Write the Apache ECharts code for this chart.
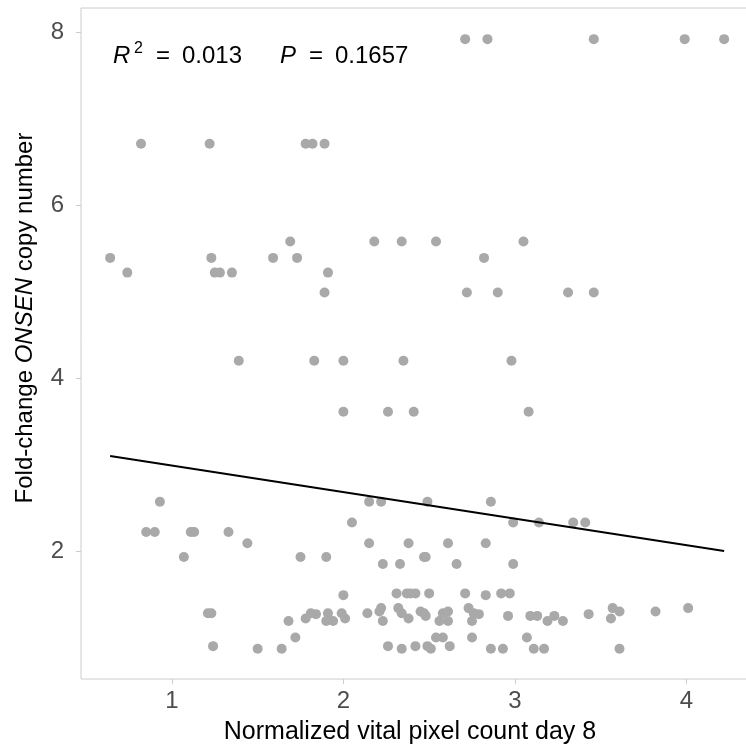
<!DOCTYPE html>
<html lang="en">
<head>
    <meta charset="UTF-8">
    <title>scatter</title>
    <script src="https://cdn.jsdelivr.net/npm/echarts@6/dist/echarts.min.js"></script>
    <style>
        * {
            margin: 0;
            padding: 0;
        }
        body {
            background-color: #fff;
            overflow: hidden;
        }
        #main {
            width: 746px;
            height: 754px;
        }
    </style>
</head>
<body>
<div id="main"></div>
<script type="text/javascript">
    // points, one row of the plot per line (x = pixel count, y = fold-change)
    var pixelCount = [
        2.71, 2.84, 3.46, 3.99, 4.22,
        0.82, 1.22, 1.78, 1.82, 1.89,
        1.69, 2.18, 2.34, 2.54, 3.05,
        0.64, 1.23, 1.59, 1.73, 2.82,
        0.74, 1.25, 1.28, 1.35, 1.91,
        1.89, 2.72, 2.90, 3.31, 3.46,
        1.39, 1.83, 2.00, 2.35, 2.98,
        2.00, 2.26, 2.41, 3.08,
        0.93, 2.15, 2.22, 2.49, 2.86,
        2.05, 2.99, 3.14, 3.34, 3.41,
        0.85, 0.90, 1.11, 1.13, 1.33,
        1.44, 2.15, 2.38, 2.61, 2.83,
        1.07, 1.75, 1.90, 2.47, 2.48,
        2.23, 2.33, 2.66, 2.99,
        2.31, 2.37, 2.39, 2.42, 2.50, 2.71, 2.92, 2.97,
        2.00, 2.83,
        2.22, 2.32, 2.73, 3.57, 4.01,
        2.21, 2.45, 2.61, 3.61, 3.82,
        1.21, 1.23, 1.81, 1.91, 1.99, 2.14, 2.34, 2.47, 2.58, 2.76,
        1.84, 2.79, 3.43,
        2.48, 2.96, 3.09, 3.13, 3.23,
        1.78, 2.01, 2.38, 3.56,
        1.68, 1.90, 1.94, 2.23, 2.56, 2.61, 2.75, 3.19, 3.28,
        1.72, 2.54, 2.58, 2.75, 3.07,
        1.24, 2.26, 2.42, 2.49, 2.62,
        1.50, 1.64, 2.34, 2.51, 2.86, 2.93, 3.11, 3.17, 3.61
    ];
    var foldChange = [
        7.92, 7.92, 7.92, 7.92, 7.92,
        6.71, 6.71, 6.71, 6.71, 6.71,
        5.58, 5.58, 5.58, 5.58, 5.58,
        5.39, 5.39, 5.39, 5.39, 5.39,
        5.22, 5.22, 5.22, 5.22, 5.22,
        4.99, 4.99, 4.99, 4.99, 4.99,
        4.20, 4.20, 4.20, 4.20, 4.20,
        3.61, 3.61, 3.61, 3.61,
        2.57, 2.57, 2.57, 2.57, 2.57,
        2.33, 2.33, 2.33, 2.33, 2.33,
        2.22, 2.22, 2.22, 2.22, 2.22,
        2.09, 2.09, 2.09, 2.09, 2.09,
        1.93, 1.93, 1.93, 1.93, 1.93,
        1.85, 1.85, 1.85, 1.85,
        1.51, 1.51, 1.51, 1.51, 1.51, 1.51, 1.51, 1.51,
        1.49, 1.49,
        1.34, 1.34, 1.34, 1.34, 1.34,
        1.30, 1.30, 1.30, 1.30, 1.30,
        1.28, 1.28, 1.28, 1.28, 1.28, 1.28, 1.28, 1.28, 1.28, 1.28,
        1.27, 1.27, 1.27,
        1.25, 1.25, 1.25, 1.25, 1.25,
        1.22, 1.22, 1.22, 1.22,
        1.19, 1.19, 1.19, 1.19, 1.19, 1.19, 1.19, 1.19, 1.19,
        1.00, 1.00, 1.00, 1.00, 1.00,
        0.90, 0.90, 0.90, 0.90, 0.90,
        0.87, 0.87, 0.87, 0.87, 0.87, 0.87, 0.87, 0.87, 0.87
    ];
    var xTicks = [1, 2, 3, 4];
    var yTicks = [2, 4, 6, 8];
    // linear fit
    var fitIntercept = 3.295;
    var fitSlope = -0.3065;
    var r2Value = '0.013';
    var pValue = '0.1657';

    var points = [];
    for (var i = 0; i < pixelCount.length; i++) {
        points.push([pixelCount[i], foldChange[i]]);
    }
    var xLo = Math.min.apply(null, pixelCount);
    var xHi = Math.max.apply(null, pixelCount);
    var fitLine = [
        [xLo, fitIntercept + fitSlope * xLo],
        [xHi, fitIntercept + fitSlope * xHi]
    ];

    var font = 'Liberation Sans';
    var gridColor = '#cccccc';

    var myChart = echarts.init(document.getElementById('main'));
    var option = {
        animation: false,
        textStyle: {fontFamily: font},
        grid: {
            left: 81,
            top: 8,
            width: 674,
            height: 671,
            outerBoundsMode: 'none',
            containLabel: false,
            show: true,
            borderColor: gridColor,
            borderWidth: 1
        },
        xAxis: {
            type: 'value',
            min: 0.47,
            max: 4.40,
            splitLine: {show: false},
            axisLine: {show: false},
            axisTick: {show: true, customValues: xTicks, length: 5, lineStyle: {color: gridColor}},
            axisLabel: {customValues: xTicks, color: '#4d4d4d', fontSize: 24, margin: 10, fontFamily: font}
        },
        yAxis: {
            type: 'value',
            min: 0.52,
            max: 8.28,
            splitLine: {show: false},
            axisLine: {show: false},
            axisTick: {show: true, customValues: yTicks, length: 5, lineStyle: {color: gridColor}},
            axisLabel: {customValues: yTicks, color: '#4d4d4d', fontSize: 24, margin: 17, fontFamily: font}
        },
        series: [
            {
                type: 'scatter',
                symbol: 'circle',
                symbolSize: 10,
                itemStyle: {color: '#a9a9a9', opacity: 1},
                data: points
            },
            {
                type: 'line',
                showSymbol: false,
                lineStyle: {color: '#000', width: 2},
                data: fitLine,
                z: 3
            }
        ],
        graphic: [
            // axis titles
            {
                type: 'text', x: 410, y: 732,
                style: {
                    text: 'Normalized vital pixel count day 8',
                    fontSize: 25, fontFamily: font, fill: '#000',
                    align: 'center', verticalAlign: 'middle'
                }
            },
            {
                type: 'text', x: 25, y: 318, rotation: Math.PI / 2,
                style: {
                    text: 'Fold-change {i|ONSEN} copy number',
                    fontSize: 24, fontFamily: font, fill: '#000',
                    align: 'center', verticalAlign: 'middle',
                    rich: {i: {fontStyle: 'italic', fontSize: 24, fontFamily: font, fill: '#000'}}
                }
            },
            // fit stats
            {type: 'text', left: 113, top: 44, style: {text: 'R', fontSize: 24, fontStyle: 'italic', fontFamily: font, fill: '#000'}},
            {type: 'text', left: 134, top: 41, style: {text: '2', fontSize: 16, fontFamily: font, fill: '#000'}},
            {type: 'text', left: 156, top: 44, style: {text: '=', fontSize: 24, fontFamily: font, fill: '#000'}},
            {type: 'text', left: 182, top: 44, style: {text: r2Value, fontSize: 24, fontFamily: font, fill: '#000'}},
            {type: 'text', left: 280, top: 44, style: {text: 'P', fontSize: 24, fontStyle: 'italic', fontFamily: font, fill: '#000'}},
            {type: 'text', left: 309, top: 44, style: {text: '=', fontSize: 24, fontFamily: font, fill: '#000'}},
            {type: 'text', left: 335, top: 44, style: {text: pValue, fontSize: 24, fontFamily: font, fill: '#000'}}
        ]
    };
    myChart.setOption(option);
</script>
</body>
</html>
